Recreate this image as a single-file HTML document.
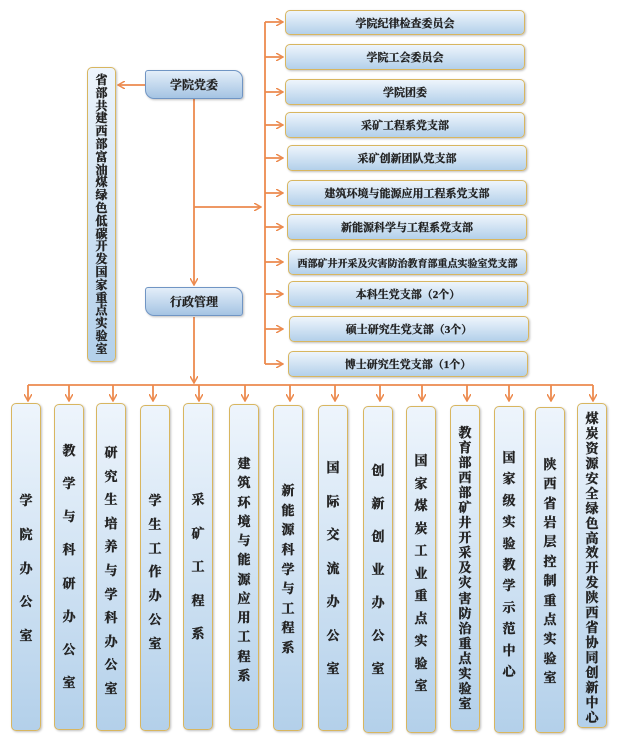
<!DOCTYPE html>
<html><head><meta charset="utf-8"><style>
*{margin:0;padding:0;box-sizing:border-box}
body{width:620px;height:744px;background:#fff;position:relative;overflow:hidden;font-family:"Liberation Serif","Noto Serif CJK SC","Noto Sans CJK SC",serif;font-weight:bold;color:#222}
.b{position:absolute;border:1.5px solid #d8b660;border-radius:5px;background:linear-gradient(#eef5fc,#b3d0ea);box-shadow:1px 1px 2px rgba(0,0,0,.25)}
.h{left:285px;width:240px;height:26px;font-size:11px;display:flex;align-items:center;justify-content:center}
.m{position:absolute;left:145px;width:98px;height:29px;border:1.5px solid #7095c4;border-radius:3px 9px 3px 9px;background:linear-gradient(#e3eef9,#a5c4e3);font-size:12px;display:flex;align-items:center;justify-content:center;box-shadow:1px 1px 2px rgba(0,0,0,.25)}
.v{width:30px}
.t{position:absolute;left:0;right:0;display:flex;flex-direction:column;justify-content:space-between;align-items:center;font-size:13px;line-height:14px}
.t span{-webkit-text-stroke:0.4px #222}
.h,.m{-webkit-text-stroke:0.3px #222}
svg{position:absolute;left:0;top:0}
</style></head><body>
<svg width="620" height="744">
<defs><marker id="a" markerWidth="8" markerHeight="8" refX="7" refY="4" orient="auto" markerUnits="userSpaceOnUse"><path d="M0,0 L7,4 L0,8" fill="none" stroke="#ec8a4e" stroke-width="1.5"/></marker></defs>
<g stroke="#ec8a4e" stroke-width="1.8" fill="none">
<line x1="265" y1="22" x2="265" y2="364"/>
<line x1="265" y1="22" x2="283" y2="22" marker-end="url(#a)"/>
<line x1="265" y1="57" x2="283" y2="57" marker-end="url(#a)"/>
<line x1="265" y1="92" x2="283" y2="92" marker-end="url(#a)"/>
<line x1="265" y1="125" x2="283" y2="125" marker-end="url(#a)"/>
<line x1="265" y1="158" x2="283" y2="158" marker-end="url(#a)"/>
<line x1="265" y1="193" x2="283" y2="193" marker-end="url(#a)"/>
<line x1="265" y1="227" x2="283" y2="227" marker-end="url(#a)"/>
<line x1="265" y1="262" x2="283" y2="262" marker-end="url(#a)"/>
<line x1="265" y1="294" x2="283" y2="294" marker-end="url(#a)"/>
<line x1="265" y1="329" x2="283" y2="329" marker-end="url(#a)"/>
<line x1="265" y1="364" x2="283" y2="364" marker-end="url(#a)"/>
<line x1="145" y1="85" x2="118" y2="85" marker-end="url(#a)"/>
<line x1="194" y1="99" x2="194" y2="285" marker-end="url(#a)"/>
<line x1="194" y1="207" x2="261" y2="207" marker-end="url(#a)"/>
<line x1="194" y1="317" x2="194" y2="383" marker-end="url(#a)"/>
<line x1="28" y1="385" x2="593" y2="385"/>
<g>
<line x1="28" y1="385" x2="28" y2="401" marker-end="url(#a)"/>
<line x1="69" y1="385" x2="69" y2="401" marker-end="url(#a)"/>
<line x1="113" y1="385" x2="113" y2="401" marker-end="url(#a)"/>
<line x1="153" y1="385" x2="153" y2="401" marker-end="url(#a)"/>
<line x1="199" y1="385" x2="199" y2="401" marker-end="url(#a)"/>
<line x1="245" y1="385" x2="245" y2="401" marker-end="url(#a)"/>
<line x1="290" y1="385" x2="290" y2="401" marker-end="url(#a)"/>
<line x1="335" y1="385" x2="335" y2="401" marker-end="url(#a)"/>
<line x1="380" y1="385" x2="380" y2="401" marker-end="url(#a)"/>
<line x1="422" y1="385" x2="422" y2="401" marker-end="url(#a)"/>
<line x1="467" y1="385" x2="467" y2="401" marker-end="url(#a)"/>
<line x1="509" y1="385" x2="509" y2="401" marker-end="url(#a)"/>
<line x1="551" y1="385" x2="551" y2="401" marker-end="url(#a)"/>
<line x1="593" y1="385" x2="593" y2="401" marker-end="url(#a)"/>
</g></g></svg>

<div class="b h" style="top:10px;height:25px">学院纪律检查委员会</div>
<div class="b h" style="top:44px">学院工会委员会</div>
<div class="b h" style="top:79px">学院团委</div>
<div class="b h" style="top:112px">采矿工程系党支部</div>
<div class="b h" style="top:145px;left:287px">采矿创新团队党支部</div>
<div class="b h" style="top:180px;left:287px">建筑环境与能源应用工程系党支部</div>
<div class="b h" style="top:214px;left:287px">新能源科学与工程系党支部</div>
<div class="b h" style="top:249px;left:288px;width:239px;font-size:10px">西部矿井开采及灾害防治教育部重点实验室党支部</div>
<div class="b h" style="top:281px;left:288px">本科生党支部（2个）</div>
<div class="b h" style="top:316px;left:289px">硕士研究生党支部（3个）</div>
<div class="b h" style="top:351px;left:288px">博士研究生党支部（1个）</div>

<div class="m" style="top:70px">学院党委</div>
<div class="m" style="top:287px">行政管理</div>

<div class="b" style="left:87px;top:67px;width:29px;height:295px"><div class="t" style="top:6px;bottom:6px;font-size:12px;line-height:12px"><span>省</span><span>部</span><span>共</span><span>建</span><span>西</span><span>部</span><span>富</span><span>油</span><span>煤</span><span>绿</span><span>色</span><span>低</span><span>碳</span><span>开</span><span>发</span><span>国</span><span>家</span><span>重</span><span>点</span><span>实</span><span>验</span><span>室</span></div></div>

<div class="b v" style="left:11px;top:403px;height:328px"><div class="t" style="top:90px;height:149px"><span>学</span><span>院</span><span>办</span><span>公</span><span>室</span></div></div>
<div class="b v" style="left:54px;top:404px;height:326px"><div class="t" style="top:39px;height:246px"><span>教</span><span>学</span><span>与</span><span>科</span><span>研</span><span>办</span><span>公</span><span>室</span></div></div>
<div class="b v" style="left:96px;top:403px;height:328px"><div class="t" style="top:42px;height:250px"><span>研</span><span>究</span><span>生</span><span>培</span><span>养</span><span>与</span><span>学</span><span>科</span><span>办</span><span>公</span><span>室</span></div></div>
<div class="b v" style="left:140px;top:405px;height:326px"><div class="t" style="top:88px;height:157px"><span>学</span><span>生</span><span>工</span><span>作</span><span>办</span><span>公</span><span>室</span></div></div>
<div class="b v" style="left:183px;top:403px;height:327px"><div class="t" style="top:89px;height:148px"><span>采</span><span>矿</span><span>工</span><span>程</span><span>系</span></div></div>
<div class="b v" style="left:229px;top:404px;height:326px"><div class="t" style="top:52px;height:226px"><span>建</span><span>筑</span><span>环</span><span>境</span><span>与</span><span>能</span><span>源</span><span>应</span><span>用</span><span>工</span><span>程</span><span>系</span></div></div>
<div class="b v" style="left:273px;top:405px;height:326px"><div class="t" style="top:78px;height:171px"><span>新</span><span>能</span><span>源</span><span>科</span><span>学</span><span>与</span><span>工</span><span>程</span><span>系</span></div></div>
<div class="b v" style="left:318px;top:405px;height:326px"><div class="t" style="top:55px;height:215px"><span>国</span><span>际</span><span>交</span><span>流</span><span>办</span><span>公</span><span>室</span></div></div>
<div class="b v" style="left:363px;top:406px;height:327px"><div class="t" style="top:57px;height:212px"><span>创</span><span>新</span><span>创</span><span>业</span><span>办</span><span>公</span><span>室</span></div></div>
<div class="b v" style="left:406px;top:406px;height:327px"><div class="t" style="top:47px;height:239px"><span>国</span><span>家</span><span>煤</span><span>炭</span><span>工</span><span>业</span><span>重</span><span>点</span><span>实</span><span>验</span><span>室</span></div></div>
<div class="b v" style="left:450px;top:405px;height:326px"><div class="t" style="top:20px;height:285px"><span>教</span><span>育</span><span>部</span><span>西</span><span>部</span><span>矿</span><span>井</span><span>开</span><span>采</span><span>及</span><span>灾</span><span>害</span><span>防</span><span>治</span><span>重</span><span>点</span><span>实</span><span>验</span><span>室</span></div></div>
<div class="b v" style="left:494px;top:406px;height:327px"><div class="t" style="top:44px;height:228px"><span>国</span><span>家</span><span>级</span><span>实</span><span>验</span><span>教</span><span>学</span><span>示</span><span>范</span><span>中</span><span>心</span></div></div>
<div class="b v" style="left:535px;top:407px;height:326px"><div class="t" style="top:50px;height:227px"><span>陕</span><span>西</span><span>省</span><span>岩</span><span>层</span><span>控</span><span>制</span><span>重</span><span>点</span><span>实</span><span>验</span><span>室</span></div></div>
<div class="b v" style="left:577px;top:403px;height:325px"><div class="t" style="top:8px;height:313px"><span>煤</span><span>炭</span><span>资</span><span>源</span><span>安</span><span>全</span><span>绿</span><span>色</span><span>高</span><span>效</span><span>开</span><span>发</span><span>陕</span><span>西</span><span>省</span><span>协</span><span>同</span><span>创</span><span>新</span><span>中</span><span>心</span></div></div>
</body></html>
